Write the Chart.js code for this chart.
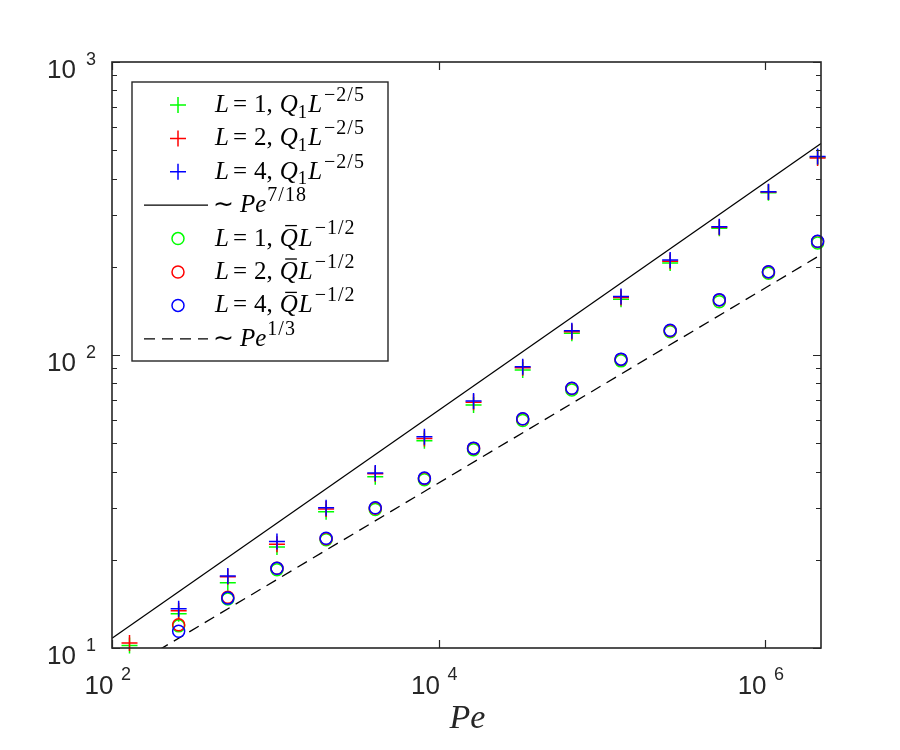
<!DOCTYPE html>
<html>
<head>
<meta charset="utf-8">
<script src="https://cdn.jsdelivr.net/npm/chart.js@4.4.0/dist/chart.umd.min.js"></script>
<style>
  body { margin: 0; background: #fff; }
</style>
</head>
<body>
<canvas id="peChart" width="900" height="750"></canvas>
<script>
// Pe values (2^7 ... 2^21)
const pe = [128, 256, 512, 1024, 2048, 4096, 8192, 16384, 32768, 65536, 131072, 262144, 524288, 1048576, 2097152];

// Q1 L^(-2/5)
const q1L1 = [10.2, 13.1, 16.7, 22.1, 29.2, 38.4, 51.0, 67.5, 88.9, 118.6, 155, 206, 271, 358, 473];
const q1L2 = [10.4, 13.4, 17.5, 22.6, 29.8, 39.3, 51.9, 69.0, 90.5, 120.1, 157, 209, 273, 360, 470];
const q1L4 = [null, 13.6, 17.6, 23.1, 30.1, 39.6, 52.6, 69.7, 91.2, 121.1, 158.5, 211, 274, 361, 476];

// Qbar L^(-1/2)
const qbL1 = [null, 11.9, 14.7, 18.5, 23.4, 29.7, 37.5, 47.5, 59.8, 76.0, 95.5, 120, 152, 190, 241];
const qbL2 = [null, 12.0, 14.9, 18.7, 23.6, 30.0, 37.9, 48.0, 60.5, 76.9, 96.6, 121, 154, 192, 244];
const qbL4 = [null, 11.4, 14.8, 18.7, 23.7, 30.1, 38.0, 48.1, 60.6, 77.0, 96.8, 121.5, 154.5, 192.5, 244.5];

// guide lines, end points
const guidePe = [100, 2.2e6];
const guide718 = [10.8, 527];
const guide13 = [7.9, 220];

const xTickVals = [1e2, 1e4, 1e6];
const yTickVals = [1e1, 1e2, 1e3];
const xTickLabels = ['2', '4', '6'];
const yTickLabels = ['1', '2', '3'];

const axisColor = '#262626';
const toXY = (xs, ys) => xs.map((x, i) => ({ x: x, y: ys[i] }));

function markerSet(label, ys, color, style, order) {
    return {
        label: label,
        data: toXY(pe, ys),
        showLine: false,
        pointStyle: style,
        pointRadius: style === 'cross' ? 8 : 6,
        pointBorderWidth: 1.5,
        pointBorderColor: color,
        pointBackgroundColor: 'rgba(0,0,0,0)',
        order: order,
        clip: false
    };
}

function guideSet(label, ys, dash) {
    return {
        label: label,
        data: toXY(guidePe, ys),
        showLine: true,
        borderColor: '#000',
        borderWidth: 1.3,
        borderDash: dash,
        pointRadius: 0,
        order: 10
    };
}

// draws a string made of pieces: i = italic, r = roman, sup / sub
function drawMath(ctx, parts, x, y, size) {
    for (const p of parts) {
        let fs = size, dy = 0;
        if (p.k === 'sup') { fs = size * 0.8; dy = -size * 0.45; }
        if (p.k === 'sub') { fs = size * 0.75; dy = size * 0.22; }
        ctx.font = (p.k === 'i' ? 'italic ' : '') + fs + 'px "Liberation Serif"';
        ctx.letterSpacing = (p.ls || 0) + 'px';
        ctx.fillText(p.t, x, y + dy);
        const w = ctx.measureText(p.t).width;
        ctx.letterSpacing = '0px';
        if (p.bar) {
            ctx.beginPath();
            ctx.lineWidth = 1.3;
            ctx.moveTo(x + w * 0.3, y - size * 0.8);
            ctx.lineTo(x + w * 0.95, y - size * 0.8);
            ctx.stroke();
        }
        x += w + (p.gap || 0);
    }
}

function drawMarker(ctx, style, color, x, y) {
    ctx.strokeStyle = color;
    ctx.lineWidth = 1.5;
    ctx.beginPath();
    if (style === 'cross') {
        ctx.moveTo(x - 8, y); ctx.lineTo(x + 8, y);
        ctx.moveTo(x, y - 8); ctx.lineTo(x, y + 8);
    } else {
        ctx.arc(x, y, 6, 0, Math.PI * 2);
    }
    ctx.stroke();
}

const axesPlugin = {
    id: 'matlabAxes',
    afterDraw(chart) {
        const ctx = chart.ctx;
        const a = chart.chartArea;
        const xs = chart.scales.x, ys = chart.scales.y;
        ctx.save();
        ctx.strokeStyle = axisColor;
        ctx.fillStyle = axisColor;

        // box
        ctx.lineWidth = 1.6;
        ctx.strokeRect(a.left, a.top, a.right - a.left, a.bottom - a.top);

        // y ticks, major and minor, both sides
        ctx.lineWidth = 1.2;
        ctx.beginPath();
        for (let d = 10; d < 1000; d *= 10) {
            for (let m = 1; m <= 10; m++) {
                const py = Math.round(ys.getPixelForValue(d * m)) + 0.5;
                const len = (m === 1 || m === 10) ? 8 : 5;
                ctx.moveTo(a.left, py); ctx.lineTo(a.left + len, py);
                ctx.moveTo(a.right, py); ctx.lineTo(a.right - len, py);
            }
        }
        // x ticks
        xTickVals.forEach(v => {
            const px = Math.round(xs.getPixelForValue(v)) + 0.5;
            ctx.moveTo(px, a.bottom); ctx.lineTo(px, a.bottom - 8);
            ctx.moveTo(px, a.top); ctx.lineTo(px, a.top + 8);
        });
        ctx.stroke();

        // tick labels
        ctx.textBaseline = 'alphabetic';
        yTickVals.forEach((v, i) => {
            const py = ys.getPixelForValue(v);
            ctx.font = '26px "Liberation Sans"';
            ctx.textAlign = 'right';
            ctx.fillText('10', 76, py + 16);
            ctx.font = '18px "Liberation Sans"';
            ctx.textAlign = 'left';
            ctx.fillText(yTickLabels[i], 86, py + 3);
        });
        xTickVals.forEach((v, i) => {
            const px = xs.getPixelForValue(v);
            ctx.font = '26px "Liberation Sans"';
            ctx.textAlign = 'center';
            ctx.fillText('10', px - 13, 694);
            ctx.font = '18px "Liberation Sans"';
            ctx.textAlign = 'left';
            ctx.fillText(xTickLabels[i], px + 9, 680);
        });

        // x axis title
        ctx.font = 'italic 34px "Liberation Serif"';
        ctx.textAlign = 'center';
        ctx.fillText('Pe', (a.left + a.right) / 2 + 1, 728);

        // legend
        const lx = 132, ly = 82, lw = 256, lh = 279;
        ctx.fillStyle = '#fff';
        ctx.fillRect(lx, ly, lw, lh);
        ctx.strokeStyle = axisColor;
        ctx.lineWidth = 1.4;
        ctx.strokeRect(lx, ly, lw, lh);

        const rows = [
            { m: 'cross', c: '#00ff00', n: '1' },
            { m: 'cross', c: '#ff0000', n: '2' },
            { m: 'cross', c: '#0000ff', n: '4' },
            { line: [], p: '7/18' },
            { m: 'circle', c: '#00ff00', n: '1' },
            { m: 'circle', c: '#ff0000', n: '2' },
            { m: 'circle', c: '#0000ff', n: '4' },
            { line: [11, 7], p: '1/3' }
        ];
        ctx.textAlign = 'left';
        rows.forEach((r, i) => {
            const cy = 105 + i * 33.4;
            if (r.line) {
                ctx.strokeStyle = '#000';
                ctx.lineWidth = 1.3;
                ctx.setLineDash(r.line);
                ctx.beginPath();
                ctx.moveTo(144, cy); ctx.lineTo(208, cy);
                ctx.stroke();
                ctx.setLineDash([]);
                ctx.fillStyle = '#000';
                ctx.strokeStyle = '#000';
                drawMath(ctx, [
                    { t: '\u223C', k: 'r', gap: 6 },
                    { t: 'Pe', k: 'i', gap: 1 },
                    { t: r.p, k: 'sup', ls: 1 }
                ], 213, cy + 7, 25);
            } else {
                drawMarker(ctx, r.m, r.c, 178, cy);
                ctx.fillStyle = '#000';
                ctx.strokeStyle = '#000';
                const parts = [
                    { t: 'L', k: 'i', gap: 4 },
                    { t: '=', k: 'r', gap: 7 },
                    { t: r.n, k: 'r', gap: 0 },
                    { t: ',', k: 'r', gap: 7 }
                ];
                if (r.m === 'cross') {
                    parts.push({ t: 'Q', k: 'i', gap: 0 }, { t: '1', k: 'sub', gap: 1 },
                               { t: 'L', k: 'i', gap: 2 }, { t: '\u22122/5', k: 'sup', ls: 1 });
                } else {
                    parts.push({ t: 'Q', k: 'i', bar: true, gap: 1 },
                               { t: 'L', k: 'i', gap: 2 }, { t: '\u22121/2', k: 'sup', ls: 1 });
                }
                drawMath(ctx, parts, 215, cy + 7, 25);
            }
        });
        ctx.restore();
    }
};

const ctx = document.getElementById('peChart').getContext('2d');
const peChart = new Chart(ctx, {
    type: 'scatter',
    data: {
        datasets: [
            markerSet('L = 1, Q1', q1L1, '#00ff00', 'cross', 3),
            markerSet('L = 2, Q1', q1L2, '#ff0000', 'cross', 2),
            markerSet('L = 4, Q1', q1L4, '#0000ff', 'cross', 1),
            guideSet('~ Pe^7/18', guide718, []),
            markerSet('L = 1, Qbar', qbL1, '#00ff00', 'circle', 3),
            markerSet('L = 2, Qbar', qbL2, '#ff0000', 'circle', 2),
            markerSet('L = 4, Qbar', qbL4, '#0000ff', 'circle', 1),
            guideSet('~ Pe^1/3', guide13, [11, 7])
        ]
    },
    options: {
        responsive: false,
        animation: false,
        layout: { padding: { left: 112, right: 79, top: 62, bottom: 102 } },
        scales: {
            x: { type: 'logarithmic', min: 100, max: 2.2e6, display: false },
            y: { type: 'logarithmic', min: 10, max: 1000, display: false }
        },
        plugins: {
            legend: { display: false },
            tooltip: { enabled: false }
        }
    },
    plugins: [axesPlugin]
});
</script>
</body>
</html>
